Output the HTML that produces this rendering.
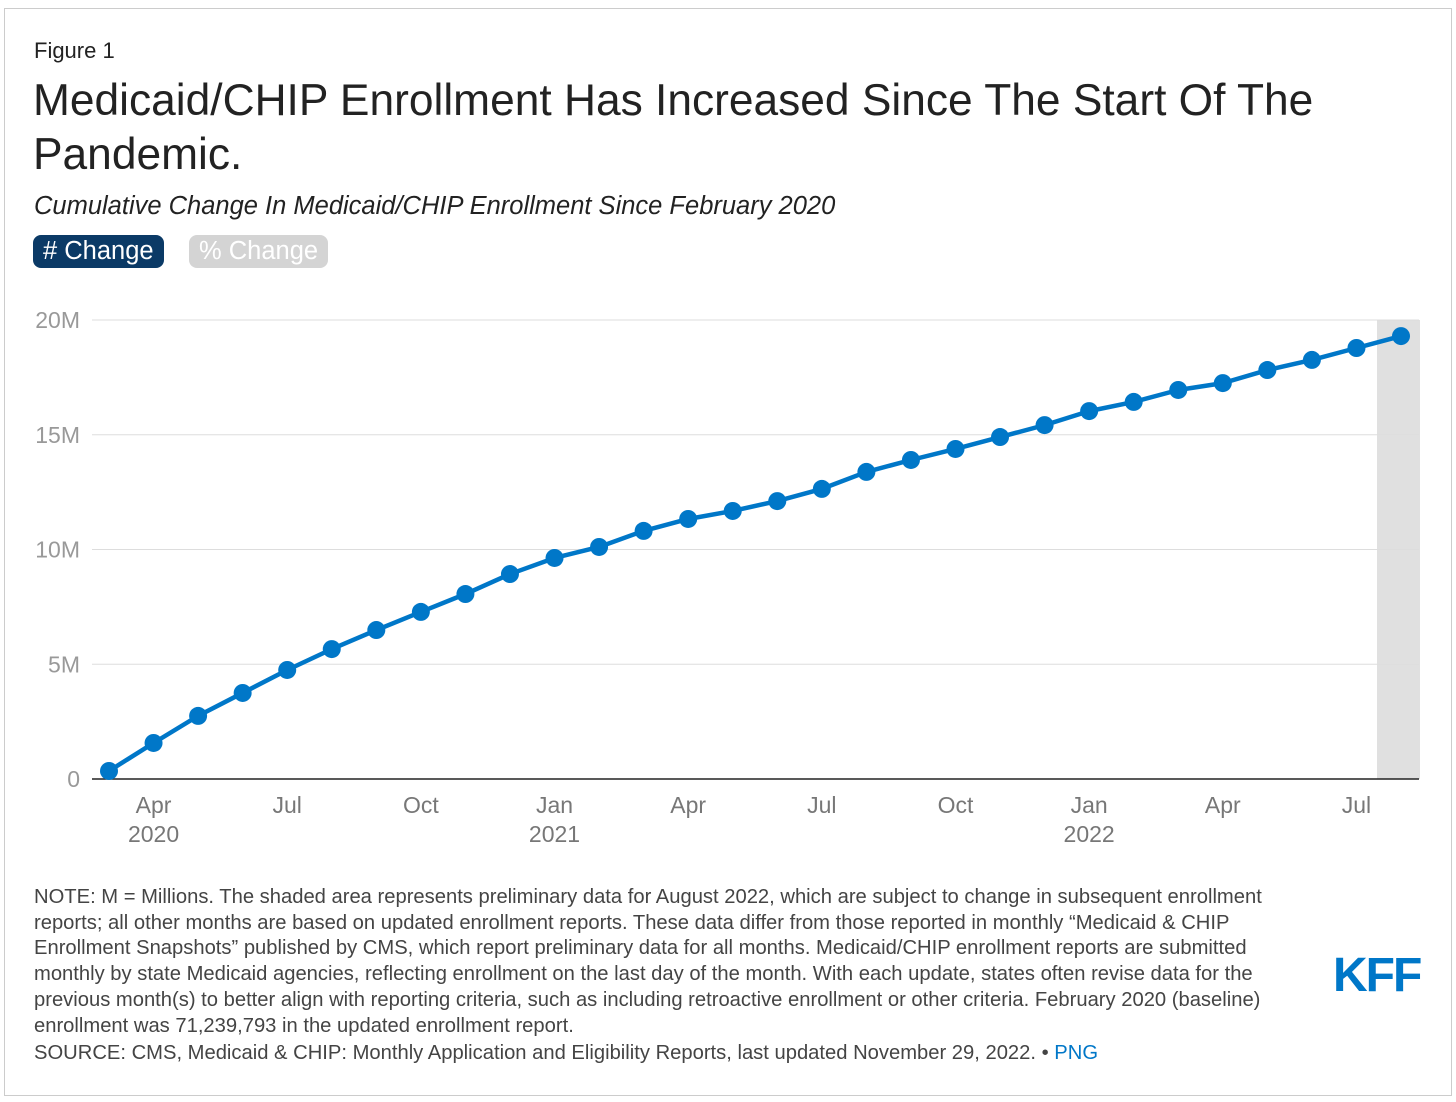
<!DOCTYPE html>
<html><head><meta charset="utf-8"><style>
body{margin:0;background:#fff;font-family:"Liberation Sans",Arial,sans-serif;}
#frame{position:absolute;left:4px;top:8px;width:1446px;height:1086px;border:1px solid #ccc;}
.t{position:absolute;color:#222;white-space:nowrap;}
.btn{position:absolute;border-radius:8px;font-size:25.5px;padding:0 10px;height:33px;line-height:33px;}
</style></head><body>
<div id="frame"></div>
<div class="t" style="left:34px;top:38px;font-size:22px">Figure 1</div>
<div class="t" style="left:33px;top:74px;font-size:44.3px;line-height:54px;white-space:normal;width:1350px">Medicaid/CHIP Enrollment Has Increased Since The Start Of The Pandemic.</div>
<div class="t" style="left:34px;top:192px;font-size:25.5px;font-style:italic">Cumulative Change In Medicaid/CHIP Enrollment Since February 2020</div>
<div class="btn" style="left:33px;top:235px;background:#0b3a66;color:#fff"># Change</div>
<div class="btn" style="left:189px;top:235px;background:#d4d4d4;color:#fff">% Change</div>
<svg id="chart" width="1456" height="1102" style="position:absolute;left:0;top:0"></svg>
<div class="t" style="left:34px;top:885px;font-size:20.2px;line-height:25.7px;white-space:normal;width:1245px;color:#444">NOTE: M = Millions. The shaded area represents preliminary data for August 2022, which are subject to change in subsequent enrollment reports; all other months are based on updated enrollment reports. These data differ from those reported in monthly “Medicaid &amp; CHIP Enrollment Snapshots” published by CMS, which report preliminary data for all months. Medicaid/CHIP enrollment reports are submitted monthly by state Medicaid agencies, reflecting enrollment on the last day of the month. With each update, states often revise data for the previous month(s) to better align with reporting criteria, such as including retroactive enrollment or other criteria. February 2020 (baseline) enrollment was 71,239,793 in the updated enrollment report.</div>
<div class="t" style="left:34px;top:1042px;font-size:20.2px;color:#444">SOURCE: CMS, Medicaid &amp; CHIP: Monthly Application and Eligibility Reports, last updated November 29, 2022. • <span style="color:#0077c8">PNG</span></div>
<div class="t" style="left:1333px;top:948px;font-size:48px;font-weight:bold;color:#0077c8;letter-spacing:-2px">KFF</div>
<script>
const months=["Mar 2020","Apr 2020","May 2020","Jun 2020","Jul 2020","Aug 2020","Sep 2020","Oct 2020","Nov 2020","Dec 2020","Jan 2021","Feb 2021","Mar 2021","Apr 2021","May 2021","Jun 2021","Jul 2021","Aug 2021","Sep 2021","Oct 2021","Nov 2021","Dec 2021","Jan 2022","Feb 2022","Mar 2022","Apr 2022","May 2022","Jun 2022","Jul 2022","Aug 2022"];
const values=[0.35,1.57,2.75,3.75,4.75,5.66,6.49,7.28,8.06,8.93,9.63,10.11,10.81,11.33,11.68,12.11,12.64,13.38,13.90,14.38,14.90,15.42,16.03,16.43,16.95,17.25,17.82,18.26,18.78,19.30];
const yTicks=[0,5,10,15,20];
const yTickLabels=["0","5M","10M","15M","20M"];
const xTickIdx=[1,4,7,10,13,16,19,22,25,28];
const xTickLabels=["Apr","Jul","Oct","Jan","Apr","Jul","Oct","Jan","Apr","Jul"];
const xYearLabels=["2020","","","2021","","","","2022","",""];
const ns="http://www.w3.org/2000/svg",svg=document.getElementById('chart');
const x=i=>109+i*(1401-109)/(months.length-1);
const y=v=>779-v*(779-320)/20;
function mk(t,a){const e=document.createElementNS(ns,t);for(const k in a)e.setAttribute(k,a[k]);svg.appendChild(e);return e;}
const sh=mk('rect',{x:x(months.length-1)-24,y:y(20),width:43,height:y(0)-y(20),fill:'#e0e0e0'});


yTicks.forEach((v,i)=>{
 const g=mk('line',{x1:92,x2:1419,y1:y(v),y2:y(v),stroke:v==0?'#222':'#ddd','stroke-width':v==0?1.5:1});
 
 
 const t=mk('text',{x:80,y:y(v)+8,'text-anchor':'end','font-size':23,fill:'#999'});t.textContent=yTickLabels[i];
 
 
});
xTickIdx.forEach((idx,i)=>{
 const t=mk('text',{x:x(idx),y:813,'text-anchor':'middle','font-size':23,fill:'#777'});t.textContent=xTickLabels[i];
 
 
 if(xYearLabels[i]){const u=mk('text',{x:x(idx),y:842,'text-anchor':'middle','font-size':23,fill:'#777'});u.textContent=xYearLabels[i];
 
 }
});
const p=mk('polyline',{points:values.map((v,i)=>x(i)+','+y(v)).join(' '),fill:'none',stroke:'#0077c8','stroke-width':4.5,'stroke-linejoin':'round'});


values.forEach((v,i)=>{const c=mk('circle',{cx:x(i),cy:y(v),r:9,fill:'#0077c8'});
 
 });
</script>
</body></html>
